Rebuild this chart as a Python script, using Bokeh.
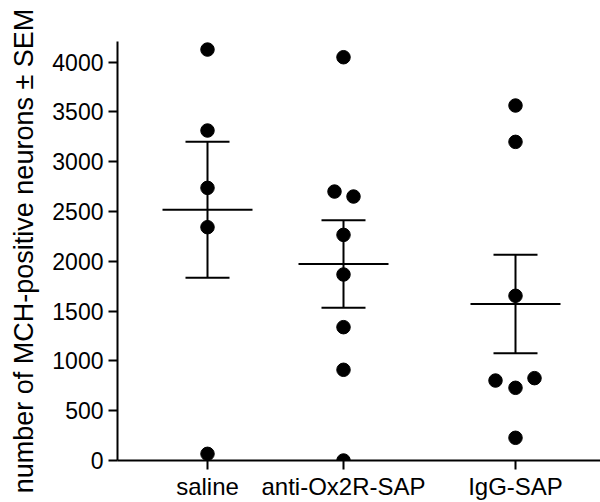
import numpy as np
from bokeh.plotting import figure
from bokeh.models import Range1d, FixedTicker, ColumnDataSource
from bokeh.embed import file_html
from bokeh.resources import INLINE

# MCH-positive neuron counts per animal, by treatment group
groups = ["saline", "anti-Ox2R-SAP", "IgG-SAP"]
saline = [4127, 3314, 2738, 2343, 67]
anti_ox2r_sap = [4050, 2701, 2651, 2266, 1868, 1339, 911, 0]
igg_sap = [3565, 3200, 1654, 803, 730, 827, 228]
y_ticks = [0, 500, 1000, 1500, 2000, 2500, 3000, 3500, 4000]

# layout: group centres on the x scale and horizontal spread of overlapping dots
group_x = [90, 226, 398]
spread = [
    [0, 0, 0, 0, 0],
    [0, -9, 10, 0, 0, 0, 0, 0],
    [0, 0, 0, -20, 0, 19, 0],
]

FONT = "Liberation Sans"

p = figure(width=600, height=502, output_backend="svg", toolbar_location=None,
           x_range=Range1d(0, 483), y_range=Range1d(0, 4208),
           min_border_left=117, min_border_right=0,
           min_border_top=41, min_border_bottom=42)
p.outline_line_color = None
p.xgrid.visible = False
p.ygrid.visible = False
p.background_fill_color = "white"
p.border_fill_color = "white"

data = [saline, anti_ox2r_sap, igg_sap]
xs, ys = [], []
mx0, mx1, my = [], [], []
ex, elo, ehi = [], [], []
for gx, vals, off in zip(group_x, data, spread):
    arr = np.array(vals, dtype=float)
    m = arr.mean()
    sem = arr.std(ddof=1) / np.sqrt(len(arr))
    xs += [gx + o for o in off]
    ys += list(vals)
    mx0.append(gx - 45); mx1.append(gx + 45); my.append(m)
    ex.append(gx); elo.append(m - sem); ehi.append(m + sem)

bars = ColumnDataSource(dict(x=ex, lo=elo, hi=ehi,
                             c0=[x - 22 for x in ex], c1=[x + 22 for x in ex]))
# mean lines
p.segment(x0=mx0, x1=mx1, y0=my, y1=my, line_color="black", line_width=2)
# SEM whiskers and caps
p.segment(x0="x", x1="x", y0="lo", y1="hi", source=bars, line_color="black", line_width=2)
p.segment(x0="c0", x1="c1", y0="hi", y1="hi", source=bars, line_color="black", line_width=2)
p.segment(x0="c0", x1="c1", y0="lo", y1="lo", source=bars, line_color="black", line_width=2)
# individual animals
p.scatter(xs, ys, size=13.5, color="black")

# y axis
ya = p.yaxis[0]
ya.ticker = FixedTicker(ticks=y_ticks)
ya.minor_tick_line_color = None
ya.major_tick_out = 9
ya.major_tick_in = 0
ya.major_tick_line_width = 2
ya.axis_line_width = 2
ya.axis_line_color = "black"
ya.major_tick_line_color = "black"
ya.major_label_text_font = FONT
ya.major_label_text_font_size = "23px"
ya.major_label_text_color = "black"
ya.major_label_standoff = 5
ya.axis_label = "number of MCH-positive neurons \u00b1 SEM"
ya.axis_label_text_font = FONT
ya.axis_label_text_font_size = "27px"
ya.axis_label_text_font_style = "normal"
ya.axis_label_text_color = "black"
ya.axis_label_standoff = 10

# x axis
xa = p.xaxis[0]
xa.ticker = FixedTicker(ticks=group_x)
xa.major_label_overrides = {gx: name for gx, name in zip(group_x, groups)}
xa.minor_tick_line_color = None
xa.major_tick_out = 9
xa.major_tick_in = 0
xa.major_tick_line_width = 2
xa.axis_line_width = 2
xa.axis_line_color = "black"
xa.major_tick_line_color = "black"
xa.major_label_text_font = FONT
xa.major_label_text_font_size = "24px"
xa.major_label_text_color = "black"
xa.major_label_standoff = 3

open("out.html", "w").write(file_html(p, INLINE))
